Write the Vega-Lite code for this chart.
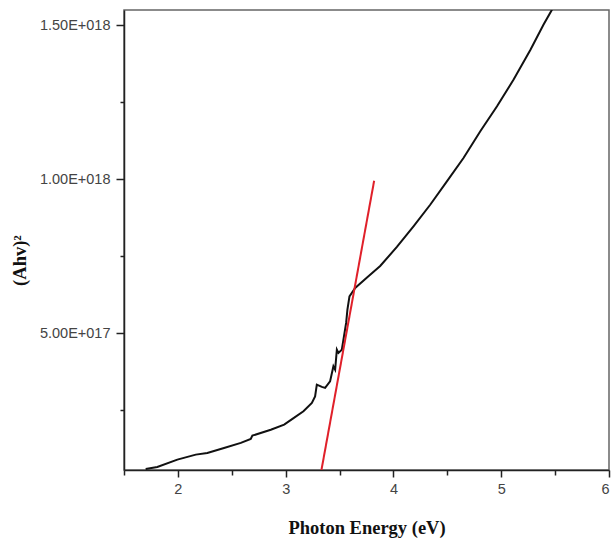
{
  "$schema": "https://vega.github.io/schema/vega-lite/v6.json",
  "autosize": {"type": "none"},
  "padding": {"left": 124, "top": 10, "right": 4, "bottom": 69},
  "width": 485,
  "height": 460,
  "background": "white",
  "config": {
    "view": {"stroke": "#666", "strokeWidth": 1.5},
    "axis": {
      "grid": false,
      "domainColor": "#222",
      "domainWidth": 1.5,
      "tickColor": "#222",
      "tickWidth": 1.5,
      "labelFont": "Liberation Sans",
      "labelFontSize": 14.5,
      "labelColor": "#444",
      "titleFont": "Liberation Serif",
      "titleFontWeight": "bold",
      "titleFontSize": 18.5,
      "titleColor": "#111"
    }
  },
  "datasets": {
    "curve": [
      {"x": 1.701, "y": 5.85e16},
      {"x": 1.809, "y": 6.5e16},
      {"x": 1.995, "y": 8.87e16},
      {"x": 2.166, "y": 1.05e17},
      {"x": 2.273, "y": 1.105e17},
      {"x": 2.428, "y": 1.267e17},
      {"x": 2.584, "y": 1.43e17},
      {"x": 2.676, "y": 1.56e17},
      {"x": 2.691, "y": 1.667e17},
      {"x": 2.862, "y": 1.86e17},
      {"x": 2.986, "y": 2.025e17},
      {"x": 3.063, "y": 2.21e17},
      {"x": 3.165, "y": 2.457e17},
      {"x": 3.243, "y": 2.73e17},
      {"x": 3.273, "y": 2.944e17},
      {"x": 3.289, "y": 3.325e17},
      {"x": 3.336, "y": 3.25e17},
      {"x": 3.366, "y": 3.217e17},
      {"x": 3.412, "y": 3.43e17},
      {"x": 3.443, "y": 3.92e17},
      {"x": 3.459, "y": 3.81e17},
      {"x": 3.475, "y": 4.46e17},
      {"x": 3.49, "y": 4.355e17},
      {"x": 3.521, "y": 4.46e17},
      {"x": 3.561, "y": 5.33e17},
      {"x": 3.573, "y": 5.76e17},
      {"x": 3.592, "y": 6.19e17},
      {"x": 3.645, "y": 6.467e17},
      {"x": 3.76, "y": 6.82e17},
      {"x": 3.877, "y": 7.18e17},
      {"x": 4.032, "y": 7.8e17},
      {"x": 4.186, "y": 8.47e17},
      {"x": 4.341, "y": 9.17e17},
      {"x": 4.496, "y": 9.93e17},
      {"x": 4.65, "y": 1.069e18},
      {"x": 4.806, "y": 1.156e18},
      {"x": 4.961, "y": 1.237e18},
      {"x": 5.115, "y": 1.324e18},
      {"x": 5.27, "y": 1.42e18},
      {"x": 5.393, "y": 1.503e18},
      {"x": 5.471, "y": 1.551e18}
    ],
    "fit": [
      {"x": 3.332, "y": 5.5e16},
      {"x": 3.821, "y": 9.95e17}
    ]
  },
  "layer": [
    {
      "data": {"name": "curve"},
      "mark": {"type": "line", "color": "#111", "strokeWidth": 2, "clip": true},
      "encoding": {
        "x": {
          "field": "x", "type": "quantitative",
          "scale": {"domain": [1.5, 6], "nice": false, "zero": false},
          "axis": {
            "title": "Photon Energy (eV)",
            "values": [1.5, 2, 2.5, 3, 3.5, 4, 4.5, 5, 5.5, 6],
            "labelExpr": "datum.value % 1 === 0 ? format(datum.value, 'd') : ''",
            "tickSize": {"condition": {"test": "datum.value % 1 === 0", "value": 7}, "value": 5},
            "labelPadding": 5,
            "titleY": 57,
            "titleBaseline": "middle"
          }
        },
        "y": {
          "field": "y", "type": "quantitative",
          "scale": {"domain": [5.5e16, 1.55e18], "nice": false, "zero": false},
          "axis": {
            "title": "(Ahv)²",
            "values": [2.5e17, 5e17, 7.5e17, 1e18, 1.25e18, 1.5e18],
            "labelExpr": "datum.value === 1.5e18 ? '1.50E+018' : datum.value === 1e18 ? '1.00E+018' : datum.value === 5e17 ? '5.00E+017' : ''",
            "tickSize": {"condition": {"test": "datum.value % 5e17 === 0", "value": 8}, "value": 4},
            "labelPadding": 6,
            "titleX": -105,
            "titleY": 250,
            "titleBaseline": "middle"
          }
        }
      }
    },
    {
      "data": {"name": "fit"},
      "mark": {"type": "line", "color": "#e0202a", "strokeWidth": 2, "clip": true},
      "encoding": {
        "x": {"field": "x", "type": "quantitative"},
        "y": {"field": "y", "type": "quantitative"}
      }
    }
  ]
}
